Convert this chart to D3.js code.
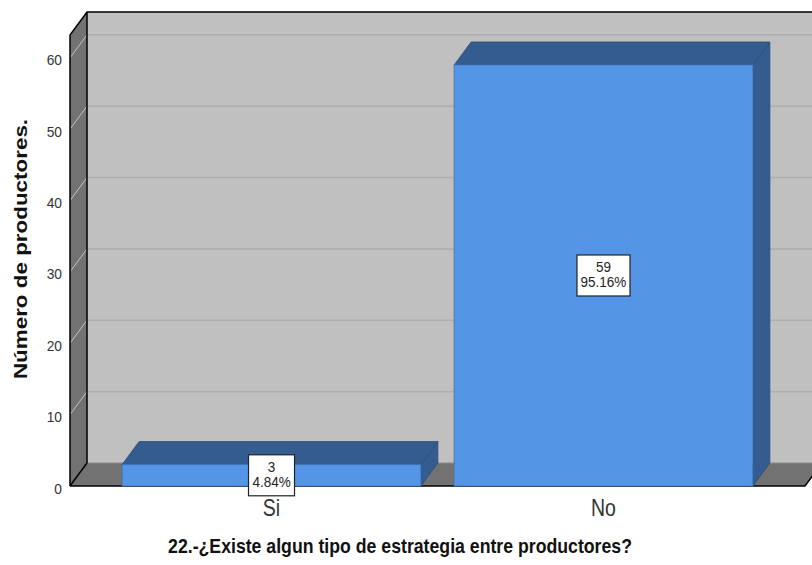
<!DOCTYPE html>
<html>
<head>
<meta charset="utf-8">
<script src="https://cdn.jsdelivr.net/npm/d3@7"></script>
<style>
  body { margin: 0; background: #fff; }
  svg { display: block; font-family: 'Liberation Sans', Arial, sans-serif; }
</style>
</head>
<body>
<div id="chart"></div>
<script>
// data
const categories = ['Si', 'No'];
const counts = [3, 59];
const percents = ['4.84%', '95.16%'];
const yTicks = [0, 10, 20, 30, 40, 50, 60];

const width = 812;
const height = 565;
// depth offset of the 3D box
const dx = 17;
const dy = 23;
// the original text looks stretched vertically
const stretch = 1.18;

const plot = { l: 70, r: 805, t: 35, b: 486 };

const svg = d3
  .select('#chart')
  .append('svg')
  .attr('width', width)
  .attr('height', height);

const yScale = d3.scaleLinear().domain([0, 63.2]).range([plot.b, plot.t]);
const xScale = d3
  .scaleBand()
  .domain(categories)
  .range([plot.l, plot.r])
  .paddingInner(0.1)
  .paddingOuter(0.157);

const poly = (pts) => pts.map((p) => p.join(',')).join(' ');

// back wall
svg
  .append('rect')
  .attr('x', plot.l + dx)
  .attr('y', plot.t - dy)
  .attr('width', plot.r - plot.l)
  .attr('height', plot.b - plot.t)
  .attr('fill', '#c0c0c0');

// gridlines on back wall
svg
  .selectAll('.grid')
  .data(yTicks.slice(1))
  .join('line')
  .attr('x1', plot.l + dx)
  .attr('x2', plot.r + dx)
  .attr('y1', (d) => yScale(d) - dy)
  .attr('y2', (d) => yScale(d) - dy)
  .attr('stroke', '#adadad')
  .attr('stroke-width', 1.5);

// left side wall
svg
  .append('polygon')
  .attr('points', poly([
    [plot.l, plot.t], [plot.l + dx, plot.t - dy],
    [plot.l + dx, plot.b - dy], [plot.l, plot.b],
  ]))
  .attr('fill', '#727272');

// tick lines on side wall
svg
  .selectAll('.sideTick')
  .data(yTicks.slice(1))
  .join('line')
  .attr('x1', plot.l)
  .attr('x2', plot.l + dx)
  .attr('y1', (d) => yScale(d))
  .attr('y2', (d) => yScale(d) - dy)
  .attr('stroke', '#c4c4c4')
  .attr('stroke-width', 1);

// floor
svg
  .append('polygon')
  .attr('points', poly([
    [plot.l, plot.b], [plot.l + dx, plot.b - dy],
    [plot.r + dx, plot.b - dy], [plot.r, plot.b],
  ]))
  .attr('fill', '#727272');
svg
  .append('line')
  .attr('x1', plot.l + dx).attr('x2', plot.r + dx)
  .attr('y1', plot.b - dy).attr('y2', plot.b - dy)
  .attr('stroke', '#8a8a8a');

// box edges
const edge = svg.append('g').attr('fill', 'none').attr('stroke', '#000').attr('stroke-width', 1.5);
edge.append('polyline').attr('points', poly([
  [plot.l, plot.b], [plot.l, plot.t], [plot.l + dx, plot.t - dy], [width + 20, plot.t - dy],
]));
edge.append('line')
  .attr('x1', plot.l + dx).attr('x2', plot.l + dx)
  .attr('y1', plot.t - dy).attr('y2', plot.b - dy);
edge.append('polyline').attr('points', poly([
  [plot.l, plot.b], [plot.r, plot.b], [plot.r + dx, plot.b - dy],
]));
edge.append('line')
  .attr('x1', plot.l).attr('x2', plot.l + dx)
  .attr('y1', plot.b).attr('y2', plot.b - dy);

// bars
const bars = svg.selectAll('.bar').data(categories).join('g').attr('class', 'bar');
bars.each(function (c, i) {
  const g = d3.select(this);
  const x0 = xScale(c);
  const x1 = x0 + xScale.bandwidth();
  const yt = yScale(counts[i]);
  const y0 = yScale(0);
  // side
  g.append('polygon')
    .attr('points', poly([[x1, yt], [x1 + dx, yt - dy], [x1 + dx, y0 - dy], [x1, y0]]))
    .attr('fill', '#345c8e')
    .attr('stroke', '#2b4c78')
    .attr('stroke-width', 0.8);
  // top
  g.append('polygon')
    .attr('points', poly([[x0, yt], [x0 + dx, yt - dy], [x1 + dx, yt - dy], [x1, yt]]))
    .attr('fill', '#345c8e')
    .attr('stroke', '#2b4c78')
    .attr('stroke-width', 0.8);
  // front
  g.append('rect')
    .attr('x', x0)
    .attr('y', yt)
    .attr('width', x1 - x0)
    .attr('height', y0 - yt)
    .attr('fill', '#5595e5')
    .attr('stroke', '#3f74b5')
    .attr('stroke-width', 0.8);
});

// value labels
bars.each(function (c, i) {
  const g = d3.select(this);
  const cx = xScale(c) + xScale.bandwidth() / 2;
  const cy = (yScale(counts[i]) + yScale(0)) / 2;
  const boxW = percents[i].length > 5 ? 53 : 46;
  g.append('rect')
    .attr('x', cx - boxW / 2)
    .attr('y', cy - 20.5)
    .attr('width', boxW)
    .attr('height', 41)
    .attr('fill', '#fff')
    .attr('stroke', '#222')
    .attr('stroke-width', 1.2);
  g.append('text')
    .attr('transform', `translate(${cx}, ${cy - 3}) scale(1, 1.05)`)
    .attr('text-anchor', 'middle')
    .attr('font-size', 13.5)
    .attr('fill', '#222')
    .text(counts[i]);
  g.append('text')
    .attr('transform', `translate(${cx}, ${cy + 12}) scale(1, 1.05)`)
    .attr('text-anchor', 'middle')
    .attr('font-size', 13.5)
    .attr('fill', '#222')
    .text(percents[i]);
});

// y tick labels
svg
  .selectAll('.ytick')
  .data(yTicks)
  .join('text')
  .attr('transform', (d) => `translate(${plot.l - 8}, ${yScale(d) + 7.5}) scale(1, 1.12)`)
  .attr('text-anchor', 'end')
  .attr('font-size', 13.8)
  .attr('fill', '#333')
  .text((d) => d);

// x category labels
svg
  .selectAll('.xtick')
  .data(categories)
  .join('text')
  .attr('transform', (d) => `translate(${xScale(d) + xScale.bandwidth() / 2}, 516) scale(1, 1.2)`)
  .attr('text-anchor', 'middle')
  .attr('font-size', 19.5)
  .attr('fill', '#333')
  .text((d) => d);

// axis names
svg
  .append('text')
  .attr('transform', `translate(27, 249) rotate(-90) scale(${stretch}, 1)`)
  .attr('text-anchor', 'middle')
  .attr('font-size', 19)
  .attr('font-weight', 'bold')
  .attr('fill', '#111')
  .text('Número de productores.');
svg
  .append('text')
  .attr('transform', `translate(400, 553) scale(1, ${stretch})`)
  .attr('text-anchor', 'middle')
  .attr('font-size', 17.7)
  .attr('font-weight', 'bold')
  .attr('fill', '#111')
  .text('22.-¿Existe algun tipo de estrategia entre productores?');
</script>
</body>
</html>
